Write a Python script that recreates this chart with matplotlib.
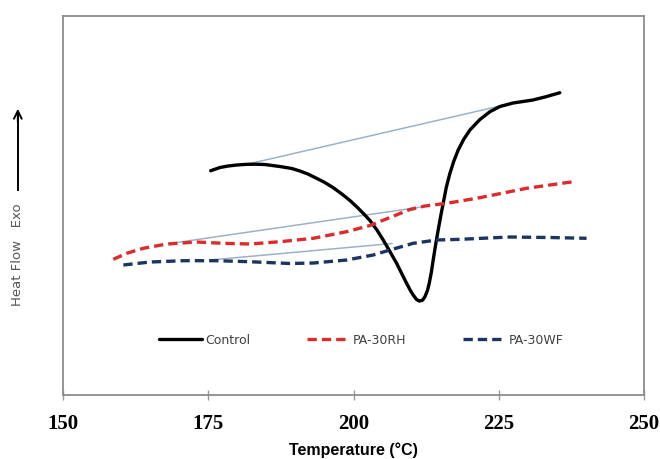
import matplotlib.pyplot as plt

# Curvas DSC (temperatura en °C, flujo de calor en unidades arbitrarias)
control_t = [175.41, 177.01, 178.39, 179.94, 181.61, 183.04, 184.76, 187.34, 189.40,
             190.78, 192.15, 193.36, 194.91, 196.46, 198.00, 199.39, 200.59, 201.79,
             202.82, 204.03, 205.11, 206.26, 207.42, 208.33, 209.14, 209.79, 210.27,
             210.82, 211.30, 211.86, 212.29, 212.72, 213.03, 213.40, 213.71, 214.18,
             214.57, 215.04, 215.43, 215.98, 216.59, 217.27, 218.01, 219.00, 220.03,
             221.75, 223.47, 225.19, 227.43, 230.87, 232.93, 235.51]
control_hf = [59.18, 60.03, 60.42, 60.69, 60.87, 60.90, 60.82, 60.29, 59.76,
              59.10, 58.31, 57.39, 56.20, 54.75, 53.03, 51.32, 49.60, 47.76,
              46.04, 43.54, 40.90, 37.86, 34.75, 31.93, 29.47, 27.57, 26.39,
              25.25, 24.80, 24.99, 25.94, 27.57, 29.47, 32.45, 35.62, 40.11,
              43.54, 47.49, 50.58, 54.88, 58.50, 61.74, 64.64, 67.55, 69.92,
              72.69, 74.75, 76.12, 77.04, 77.84, 78.63, 79.76]

rh_t = [158.65, 160.96, 163.82, 167.84, 173.00, 177.58, 182.18, 187.34, 193.07,
        198.81, 202.82, 206.26, 209.70, 212.29, 216.02, 221.18, 224.04, 229.78, 237.80]
rh_hf = [35.80, 37.39, 38.71, 39.84, 40.37, 40.03, 39.84, 40.45, 41.35,
         43.09, 44.72, 46.83, 48.95, 49.87, 50.58, 51.90, 52.77, 54.54, 56.28]

wf_t = [160.38, 164.97, 170.70, 176.45, 182.18, 189.06, 193.07, 198.81, 203.39,
        206.26, 210.27, 214.30, 218.30, 226.91, 233.79, 240.11]
wf_hf = [34.30, 35.09, 35.44, 35.44, 35.17, 34.70, 34.83, 35.62, 36.94,
         38.26, 40.03, 40.90, 41.08, 41.69, 41.56, 41.35]

# Líneas base de cada pico (inicio y fin)
base_control_t = [181.61, 227.43]
base_control_hf = [60.87, 77.04]
base_rh_t = [168.93, 211.99]
base_rh_hf = [40.10, 49.68]
base_wf_t = [175.29, 206.61]
base_wf_hf = [35.62, 39.97]

x_ticks = [150, 175, 200, 225, 250]

fig = plt.figure(figsize=(6.6, 4.59), dpi=100)
ax = fig.add_axes([0.0955, 0.1394, 0.8803, 0.8257])

base_color = '#9db2c6'
ax.plot(base_control_t, base_control_hf, color=base_color, lw=1.1)
ax.plot(base_rh_t, base_rh_hf, color=base_color, lw=1.1)
ax.plot(base_wf_t, base_wf_hf, color=base_color, lw=1.1)

ax.plot(control_t, control_hf, color='black', lw=2.4, label='Control',
        solid_capstyle='round', solid_joinstyle='round')
ax.plot(rh_t, rh_hf, color='#dc2b2b', lw=2.4, dashes=(2.8, 1.5), label='PA-30RH')
ax.plot(wf_t, wf_hf, color='#1c3461', lw=2.4, dashes=(2.8, 1.5), label='PA-30WF')

ax.set_xlim(150, 250)
ax.set_ylim(0, 100)
ax.set_xticks(x_ticks)
ax.set_xticklabels([str(t) for t in x_ticks], fontfamily='Liberation Serif',
                   fontweight='bold', fontsize=15)
ax.set_yticks([])
ax.tick_params(axis='x', direction='inout', length=7, width=1, color='#999999', pad=10)

for side in ['left', 'right', 'top', 'bottom']:
    ax.spines[side].set_color('#8c8c8c')
    ax.spines[side].set_linewidth(1.3)

ax.set_xlabel('Temperature (°C)', fontfamily='Liberation Sans', fontweight='bold',
              fontsize=11.5, labelpad=6)

leg = ax.legend(ncol=3, loc='center', bbox_to_anchor=(0.514, 0.145), frameon=False,
                fontsize=9, handlelength=3.4, handletextpad=0.3, columnspacing=4.5,
                labelcolor='#404040')

# Etiqueta del eje Y con flecha "Exo"
fig.text(0.027, 0.445, 'Heat Flow   Exo', rotation=90, ha='center', va='center',
         fontsize=9.5, color='#555555')
fig.add_artist(plt.Line2D([0.027, 0.027], [1 - 190 / 459, 1 - 112 / 459],
                          color='black', lw=1.4))
ax.annotate('', xy=(0.027, 1 - 106 / 459), xytext=(0.027, 1 - 125 / 459),
            xycoords='figure fraction', textcoords='figure fraction',
            arrowprops=dict(arrowstyle='->', color='black', lw=1.4,
                            mutation_scale=14))

fig.savefig('out.png', dpi=100)
